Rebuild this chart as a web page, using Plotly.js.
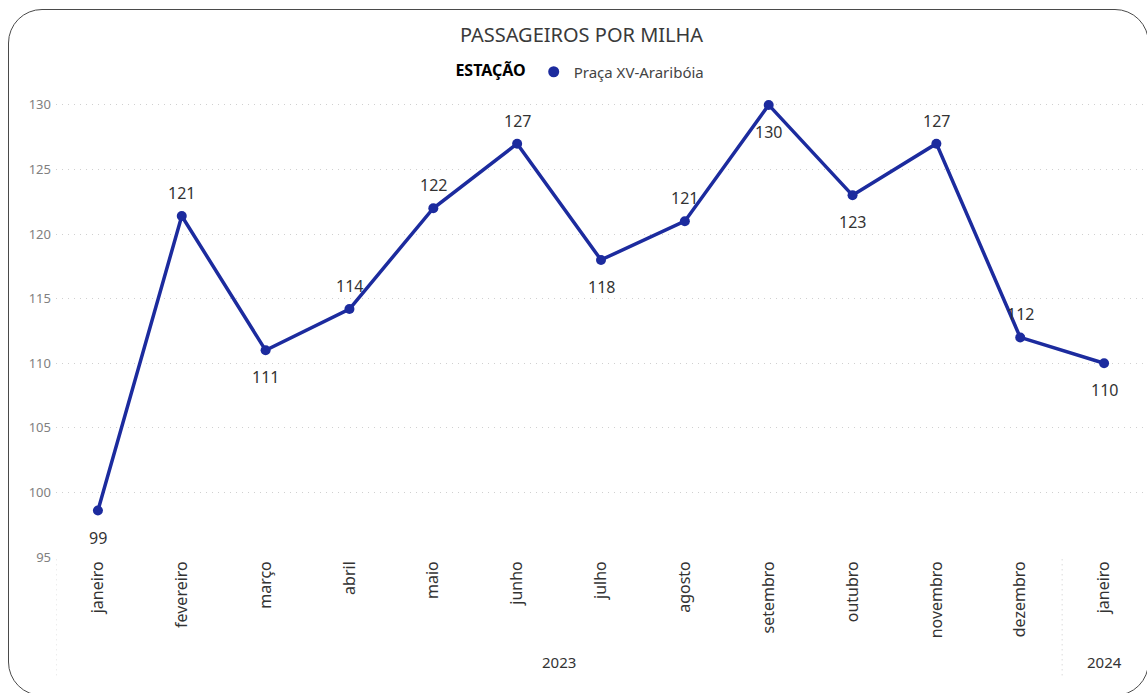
<!DOCTYPE html>
<html>
<head>
<meta charset="utf-8">
<script src="https://cdn.plot.ly/plotly-3.0.1.min.js"></script>
<style>
  html, body { margin:0; padding:0; overflow:hidden; background:#fff; }
  #chart { position:absolute; left:0; top:0; width:1147px; height:693px; }
  #frame { position:absolute; left:8px; top:9px; width:1141px; height:687px;
           border:1.5px solid #4a4a4a; border-radius:34px; pointer-events:none; box-sizing:border-box; }
</style>
</head>
<body>
<div id="chart"></div>
<div id="frame"></div>
<script>
const months = ["janeiro","fevereiro","março","abril","maio","junho","julho","agosto","setembro","outubro","novembro","dezembro","janeiro"];
const years = ["2023","2023","2023","2023","2023","2023","2023","2023","2023","2023","2023","2023","2024"];
const values = [98.6, 121.4, 111.0, 114.2, 122.0, 127.0, 118.0, 121.0, 130.0, 123.0, 127.0, 112.0, 110.0];
const labelAbove = [false, true, false, true, true, true, false, true, false, false, true, true, false];
const stationName = "Praça XV-Araribóia";
const legendTitle = "ESTAÇÃO";
const chartTitle = "PASSAGEIROS POR MILHA";
const yearGroups = ["2023","2024"];

const keys = months.map((m,i) => m + " " + years[i]);
const lineColor = "#1c2b9e";
const font = "'Segoe UI', 'Noto Sans', 'Open Sans', sans-serif";

const trace = {
  x: keys, y: values, type: "scatter", mode: "lines+markers",
  line: {color: lineColor, width: 3.5},
  marker: {color: lineColor, size: 10},
  cliponaxis: false,
  name: stationName, showlegend: false, hoverinfo: "x+y"
};
const legendTrace = {
  x: [null], y: [null], type: "scatter", mode: "markers",
  marker: {color: lineColor, size: 11},
  name: stationName, showlegend: true
};

const annotations = [];
// data labels
keys.forEach((k, i) => {
  annotations.push({
    x: k, xref: "x", y: values[i], yref: "y",
    text: Math.round(values[i]).toString(), showarrow: false,
    font: {family: font, size: 16, color: "#333"},
    xanchor: "center", yanchor: "middle",
    yshift: labelAbove[i] ? 23 : -27
  });
});
// year groups and separators
const shapes = [];
yearGroups.forEach(yr => {
  const idx = years.map((y,i) => y === yr ? i : -1).filter(i => i >= 0);
  const first = idx[0], last = idx[idx.length-1];
  annotations.push({
    x: (first + last) / 2, xref: "x", y: -0.226, yref: "paper",
    text: yr, showarrow: false, font: {family: font, size: 15, color: "#333"},
    xanchor: "center", yanchor: "middle"
  });
  shapes.push({
    type: "line", xref: "x", yref: "paper", x0: first - 0.5, x1: first - 0.5, y0: -0.005, y1: -0.256,
    line: {color: "#c8c8c8", width: 1, dash: "1px,4px"}
  });
});

const layout = {
  width: 1147, height: 693,
  margin: {l: 56, r: 1, t: 92, b: 136},
  paper_bgcolor: "rgba(0,0,0,0)", plot_bgcolor: "rgba(0,0,0,0)",
  title: {text: chartTitle, x: 0.507, xanchor: "center", y: 0.95, yanchor: "middle",
          font: {family: "'Segoe UI', 'Noto Sans', sans-serif", size: 20, color: "#3a3a3a"}},
  showlegend: true,
  legend: {orientation: "h", x: 0.482, xanchor: "center", y: 1.043, yanchor: "middle",
           title: {text: "<b>" + legendTitle + "</b>", side: "left", font: {family: font, size: 16, color: "#000"}},
           font: {family: font, size: 15, color: "#444"}, itemwidth: 30, bgcolor: "rgba(0,0,0,0)"},
  xaxis: {
    type: "category", tickvals: keys, ticktext: months, tickangle: -90,
    tickfont: {family: font, size: 16, color: "#333"},
    showgrid: false, zeroline: false, showline: false, ticks: "",
    range: [-0.5, 12.5], fixedrange: true
  },
  yaxis: {
    range: [95, 131], tick0: 95, dtick: 5,
    tickfont: {family: font, size: 13, color: "#808080"},
    showgrid: true, gridcolor: "#d0d0d0", gridwidth: 1, griddash: "1px,5px",
    zeroline: false, showline: false, ticks: "", ticklabelstandoff: 4
  },
  annotations: annotations,
  shapes: shapes
};

Plotly.newPlot("chart", [trace, legendTrace], layout, {displayModeBar: false, staticPlot: true});
</script>
</body>
</html>
